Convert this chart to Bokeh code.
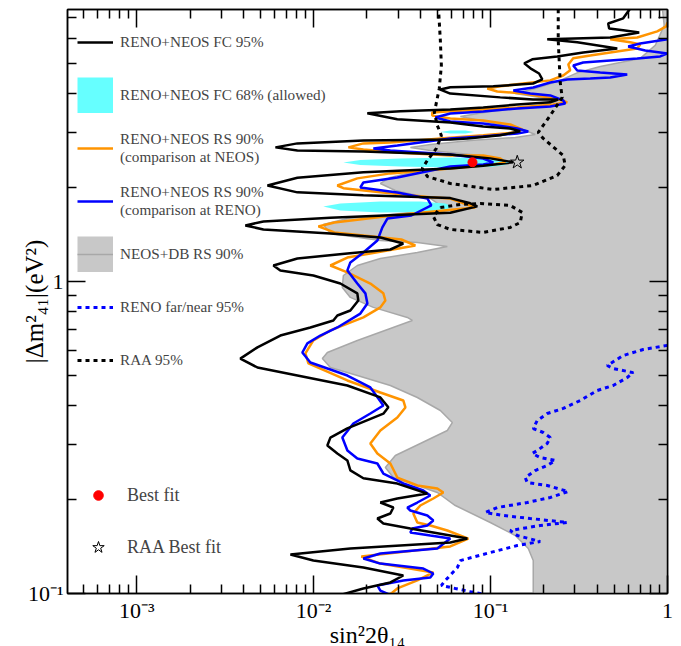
from math import pi
from bokeh.plotting import figure
from bokeh.models import (LogAxis, Legend, LegendItem, CustomJSTickFormatter, Range1d, FixedTicker)
from bokeh.embed import file_html
from bokeh.resources import INLINE

FONT = "Liberation Serif"
NAN = float("nan")

# ---------------- data: (sin^2 2theta14, |dm^2_41| [eV^2]) ----------------
fc95 = [(0.6155,7.5),(0.562,6.97),(0.462,6.71),(0.468,6.47),(0.562,6.38),(0.692,6.28),(0.4745,6.05),(0.209,5.97),
        (0.309,5.84),(0.520,5.58),(0.334,5.42),(0.238,5.26),(0.172,5.15),(0.155,5.00),(0.168,4.82),(0.188,4.64),
        (0.196,4.44),(0.174,4.31),(0.1036,4.22),(0.0592,4.19),(0.052,4.12),(0.0592,4.00),(0.1134,3.89),(0.174,3.83),
        (0.241,3.83),(0.217,3.75),(0.1415,3.69),(0.0909,3.61),(0.0592,3.56),(0.0309,3.51),(0.0201,3.46),(0.0297,3.31),
        (0.0592,3.23),(0.0909,3.14),(0.1292,3.09),(0.147,3.03),(0.1134,2.94),(0.0739,2.87),(0.0592,2.85),(0.0191,2.83),
        (0.00809,2.77),(0.00608,2.69),(0.00809,2.63),(0.0191,2.61),(0.0592,2.55),(0.0996,2.48),(0.1344,2.41),(0.0909,2.35),
        (0.0592,2.30),(0.0191,2.24),(0.00809,2.15),(0.00548,2.03),(0.00809,1.93),(0.0191,1.89),(0.0592,1.85),(0.0768,1.78),
        (0.0841,1.74),(0.0592,1.66),(0.01243,1.60),(0.0052,1.556),(0.00411,1.512),(0.0052,1.468),(0.01243,1.425),
        (0.02382,1.383),(0.0321,1.323),(0.02713,1.266),(0.0155,1.229),(0.00809,1.185),(0.00592,1.125),(0.00648,1.085),
        (0.00996,1.045),(0.01415,0.985),(0.01765,0.916),(0.01788,0.869),(0.01612,0.807),(0.01361,0.778),(0.01292,0.750),
        (0.00958,0.712),(0.00648,0.671),(0.00481,0.615),(0.00385,0.566),(0.00481,0.530),(0.00809,0.4995),(0.0155,0.464),
        (0.02382,0.425),(0.02643,0.395),(0.02477,0.377),(0.0155,0.338),(0.01243,0.316),(0.01195,0.298),(0.01361,0.281),
        (0.0155,0.267),(0.01612,0.248),(0.0191,0.234),(0.02971,0.225),(0.0439,0.209),(0.02971,0.2016),(0.02382,0.1957),
        (0.02821,0.1886),(0.02713,0.1805),(0.02291,0.1739),(0.02477,0.1676),(0.03519,0.1616),(0.0592,0.1534),
        (0.0739,0.1500),(0.0592,0.1457),(0.01612,0.1394),(0.00739,0.1333),(0.00996,0.1275),(0.0191,0.1211),
        (0.0321,0.1142),(0.02713,0.1085),(0.0191,0.1038),(0.0147,0.0995)]

rs90_neos = [(1.0,6.76),(0.983,6.57),(0.875,6.33),(0.674,6.05),(0.4745,5.97),(0.6155,5.84),(0.7011,5.75),(0.674,5.58),
             (0.4745,5.42),(0.3658,5.30),(0.293,5.19),(0.275,4.96),(0.2819,4.75),(0.2574,4.57),(0.2174,4.41),(0.153,4.31),
             (0.1134,4.22),(0.0958,4.155),(0.1091,4.064),(0.153,4.00),(0.2091,3.89),(0.2574,3.80),(0.2712,3.75),(0.226,3.69),
             (0.1415,3.61),(0.0909,3.56),(0.0592,3.51),(0.0468,3.48),(0.0468,3.40),(0.0592,3.33),(0.0909,3.28),(0.1292,3.185),
             (0.151,3.07),(0.1344,3.00),(0.0909,2.94),(0.0592,2.89),(0.02713,2.79),(0.0191,2.77),(0.01571,2.69),(0.0191,2.65),
             (0.02971,2.59),(0.0592,2.534),(0.0909,2.534),(0.1134,2.48),(0.1211,2.41),(0.1036,2.37),(0.0592,2.30),(0.02713,2.22),
             (0.01765,2.14),(0.01361,2.03),(0.01472,1.99),(0.02382,1.93),(0.04564,1.86),(0.0592,1.845),(0.08196,1.726),
             (0.0313,1.639),(0.01309,1.545),(0.01063,1.501),(0.01309,1.436),(0.0313,1.363),(0.03755,1.304),(0.02609,1.257),
             (0.0155,1.193),(0.01243,1.125),(0.0155,1.069),(0.02091,0.985),(0.02477,0.916),(0.02542,0.869),(0.02382,0.826),
             (0.0191,0.767),(0.01243,0.697),(0.00996,0.647),(0.00898,0.588),(0.00934,0.546),(0.0155,0.4816),(0.02382,0.4407),
             (0.0321,0.4155),(0.033,0.3946),(0.02971,0.3664),(0.02382,0.333),(0.02091,0.3026),(0.02291,0.281),(0.02713,0.261),
             (0.02971,0.2353),(0.03854,0.2219),(0.05,0.217),(0.05406,0.2107),(0.04746,0.2016),(0.04008,0.1914),(0.03658,0.1805),
             (0.03854,0.1689),(0.04564,0.1652),(0.05695,0.1592),(0.07483,0.150),(0.0592,0.1415),(0.0186,0.1313),
             (0.02382,0.1247),(0.04746,0.1168),(0.03854,0.1101),(0.02971,0.1038),(0.02713,0.0995)]

rs90_reno = [(1.0,5.97),(0.7011,5.79),(0.5997,5.665),(0.7482,5.50),(1.0,5.38),(0.9094,5.263),(0.6742,5.185),(0.4745,5.109),
             (0.3339,5.034),(0.2932,4.924),(0.3088,4.746),(0.4166,4.676),(0.592,4.608),(0.4745,4.507),(0.3658,4.474),
             (0.2712,4.441),(0.2174,4.343),(0.1742,4.186),(0.1344,4.094),(0.1676,4.004),(0.2174,3.946),(0.2574,3.803),
             (0.2642,3.720),(0.2174,3.638),(0.1415,3.584),(0.0909,3.506),(0.0592,3.455),(0.04872,3.354),(0.0592,3.257),
             (0.0909,3.209),(0.1415,3.093),(0.1633,3.026),(0.1415,2.981),(0.0909,2.916),(0.0592,2.873),(0.02971,2.728),
             (0.02175,2.669),(0.02713,2.630),(0.0592,2.553),(0.0909,2.478),(0.1036,2.406),(0.0909,2.371),(0.0592,2.337),
             (0.02971,2.154),(0.0191,2.076),(0.01836,2.001),(0.02971,1.928),(0.0439,1.845),(0.04624,1.752),(0.03565,1.627),
             (0.02609,1.591),(0.02445,1.490),(0.02291,1.353),(0.0191,1.238),(0.01612,1.151),(0.01551,1.085),(0.01765,0.985),
             (0.0196,0.916),(0.02012,0.850),(0.01836,0.789),(0.01361,0.712),(0.01091,0.671),(0.00921,0.633),(0.00863,0.592),
             (0.00958,0.550),(0.01551,0.4995),(0.02091,0.4574),(0.02321,0.4217),(0.02477,0.4005),(0.02091,0.3774),
             (0.01676,0.3506),(0.01452,0.3162),(0.01551,0.2872),(0.01765,0.2708),(0.02291,0.2610),(0.02477,0.2424),
             (0.03212,0.2252),(0.04167,0.2138),(0.04564,0.2061),(0.03854,0.1957),(0.03384,0.1886),(0.03519,0.1845),
             (0.0439,0.1778),(0.04746,0.1714),(0.0439,0.1652),(0.03612,0.1616),(0.03519,0.1569),(0.04564,0.1534),
             (0.0592,0.1500),(0.05,0.1394),(0.02382,0.1343),(0.0191,0.1294),(0.02382,0.1247),(0.04167,0.1202),
             (0.04746,0.1159),(0.04564,0.1125),(0.03212,0.1101),(0.02291,0.1061),(0.02382,0.1022),(0.02643,0.0995)]

neos_db = [(0.933,7.6),(0.958,6.615),(0.8522,5.707),(0.7011,5.185),(0.4166,4.888),(0.3128,4.676),(0.2475,4.408),
           (0.1788,4.155),(0.1379,4.004),(0.1908,3.888),(0.235,3.775),(0.1676,3.611),(0.0996,3.506),(0.06744,3.379),
           (0.0996,3.233),(0.1471,3.093),(0.1788,2.959),(0.1379,2.894),(0.0768,2.831),(0.04564,2.748),(0.03519,2.688),
           (0.04564,2.630),(0.08747,2.534),(0.1063,2.442),(0.08747,2.354),(0.04008,2.269),(0.02713,2.154),(0.02382,2.061),
           (0.02895,1.957),(0.04564,1.845),(0.05199,1.752),(0.04008,1.677),(0.02382,1.627),(0.01551,1.591),(0.01134,1.522),
           (0.01243,1.425),(0.02382,1.353),(0.03854,1.333),(0.05695,1.294),(0.03854,1.238),(0.02382,1.185),(0.01765,1.125),
           (0.01472,1.045),(0.01452,0.957),(0.01612,0.889),(0.02175,0.826),(0.03384,0.767),(0.03612,0.750),(0.02713,0.707),
           (0.01765,0.647),(0.01195,0.592),(0.0112,0.566),(0.01243,0.530),(0.01765,0.4995),(0.02713,0.4642),(0.03854,0.4248),
           (0.05199,0.3859),(0.06076,0.3531),(0.05695,0.3330),(0.04008,0.3026),(0.02895,0.2769),(0.02542,0.2534),
           (0.02821,0.2353),(0.03854,0.2219),(0.05,0.2107),(0.06319,0.1914),(0.0996,0.1689),(0.1379,0.1534),(0.1633,0.1394),
           (0.1742,0.1275),(0.1742,0.095),(2.0,0.095),(2.0,7.6)]

fc68_a = [(0.052,3.015),(0.0592,3.048),(0.072,3.048),(0.0809,3.015),(0.072,2.981),(0.0592,2.981)]
fc68_b = [(0.01472,2.406),(0.01836,2.451),(0.0309,2.478),(0.0592,2.496),(0.0996,2.487),(0.1211,2.442),(0.1275,2.406),
          (0.1211,2.363),(0.0996,2.328),(0.0592,2.320),(0.0309,2.337),(0.01836,2.363)]
fc68_c = [(0.01134,1.739),(0.01415,1.778),(0.02382,1.805),(0.04008,1.805),(0.05549,1.778),(0.06076,1.739),(0.05549,1.695),
          (0.04008,1.670),(0.02382,1.664),(0.01415,1.689)]

raa_a = [(0.0507,7.6),(0.052,5.922),(0.0527,4.924),(0.0513,4.155),(0.0481,3.480),(0.05,3.162),(0.0527,2.937),(0.0494,2.669),
         (0.0439,2.442),(0.0411,2.303),(0.0439,2.170),(0.0592,2.061),(0.1036,1.971),(0.1742,2.031),(0.2381,2.186),(0.2642,2.354),
         (0.2574,2.534),(0.1985,2.873),(0.1859,3.003),(0.2174,3.404),(0.254,3.888),(0.2475,4.343),(0.2412,5.922),(0.2412,7.6)]
raa_b = [(0.052,1.726),(0.0674,1.765),(0.0875,1.778),(0.1292,1.752),(0.151,1.664),(0.1471,1.545),(0.1292,1.490),
         (0.0909,1.436),(0.0592,1.468),(0.05,1.522),(0.0475,1.615),(0.052,1.726)]

reno_fn = [(1.0,0.624),(0.729,0.6054),(0.562,0.579),(0.4563,0.538),(0.4934,0.5257),(0.64,0.5104),(0.592,0.4922),
           (0.4934,0.4642),(0.4006,0.4473),(0.3211,0.4155),(0.2574,0.3918),(0.2091,0.3774),(0.1835,0.3584),(0.1742,0.3379),
           (0.1985,0.3281),(0.2174,0.3162),(0.2091,0.3026),(0.1835,0.2872),(0.172,0.281),(0.1908,0.2728),(0.232,0.2669),
           (0.2091,0.2572),(0.1788,0.2478),(0.157,0.2353),(0.1611,0.2268),(0.2091,0.2219),(0.2747,0.2122),(0.2174,0.2031),
           (0.1611,0.1957),(0.1091,0.1886),(0.0933,0.1818),(0.118,0.1778),(0.1676,0.1739),(0.2712,0.1689),(0.1908,0.1652),
           (0.1292,0.1592),(0.1415,0.1534),(0.1908,0.1468),(0.1415,0.1425),(0.0996,0.1353),(0.0674,0.1275),(0.0649,0.1211),
           (0.0555,0.1101),(0.0527,0.1061),(0.0632,0.1038),(0.0768,0.1014),(0.0909,0.0995)]

best_fit = [(0.079, 2.41)]
raa_best_fit = [(0.1415, 2.41)]

x_major_ticks = [0.001, 0.01, 0.1, 1.0]
y_major_ticks = [0.1, 1.0]
minor_multipliers = [2, 3, 4, 5, 6, 7, 8, 9]
x_decades = [1e-4, 1e-3, 1e-2, 1e-1]
y_decades = [0.1, 1.0]


def xs(pts):
    return [a for a, b in pts]


def ys(pts):
    return [b for a, b in pts]


x_lo, x_hi, y_lo, y_hi = 4.06e-4, 1.0, 0.1, 7.44
x_minor = [m * d for d in x_decades for m in minor_multipliers if x_lo <= m * d <= x_hi]
y_minor = [m * d for d in y_decades for m in minor_multipliers if y_lo <= m * d <= y_hi]

p = figure(x_axis_type="log", y_axis_type="log",
           x_range=Range1d(x_lo, x_hi), y_range=Range1d(y_lo, y_hi),
           frame_width=600, frame_height=584,
           min_border_left=67, min_border_right=8, min_border_top=9, min_border_bottom=30,
           output_backend="svg", toolbar_location=None)
p.xgrid.visible = False
p.ygrid.visible = False
p.outline_line_color = "black"
p.outline_line_width = 1.5
p.background_fill_color = "white"
p.border_fill_color = "white"

fmt = CustomJSTickFormatter(code="""
const e = Math.round(Math.log10(tick));
if (e === 0) return "1";
const sup = {"-": "\u207b", "0": "\u2070", "1": "\u00b9", "2": "\u00b2", "3": "\u00b3",
             "4": "\u2074", "5": "\u2075", "6": "\u2076", "7": "\u2077", "8": "\u2078", "9": "\u2079"};
return "10" + String(e).split("").map(c => sup[c]).join("");
""")


def style_axis(ax, major, minor):
    ax.ticker = FixedTicker(ticks=major, minor_ticks=minor)
    ax.axis_line_width = 1.5
    ax.axis_line_color = "black"
    ax.major_tick_in = 18
    ax.major_tick_out = 0
    ax.minor_tick_in = 9
    ax.minor_tick_out = 0
    ax.major_tick_line_width = 1.5
    ax.minor_tick_line_width = 1.5
    ax.major_tick_line_color = "black"
    ax.minor_tick_line_color = "black"
    ax.major_label_text_font = FONT
    ax.major_label_text_font_size = "22px"
    ax.major_label_text_color = "black"
    ax.major_label_standoff = 4
    ax.axis_label_text_font = FONT
    ax.axis_label_text_font_style = "normal"
    ax.axis_label_text_font_size = "24px"
    ax.axis_label_text_color = "black"


style_axis(p.xaxis[0], x_major_ticks, x_minor)
style_axis(p.yaxis[0], y_major_ticks, y_minor)
p.xaxis[0].formatter = fmt
p.yaxis[0].formatter = fmt
p.xaxis[0].axis_label = "sin\u00b22\u03b8\u2081\u2084"
p.xaxis[0].axis_label_standoff = -4
p.yaxis[0].axis_label = "|\u0394m\u00b2\u2084\u2081|(eV\u00b2)"
p.yaxis[0].axis_label_text_font_size = "25px"
p.yaxis[0].axis_label_standoff = -23

for place, major, minor in (("above", x_major_ticks, x_minor), ("right", y_major_ticks, y_minor)):
    ax = LogAxis(formatter=CustomJSTickFormatter(code="return '';"))
    style_axis(ax, major, minor)
    ax.major_label_text_font_size = "0px"
    ax.major_label_standoff = 0
    p.add_layout(ax, place)

# ---------------- regions ----------------
p.patch(xs(neos_db), ys(neos_db), fill_color="#c8c8c8", line_color="#a8a8a8", line_width=1.5)
CYAN = "#66ffff"
for poly in (fc68_a, fc68_b, fc68_c):
    p.patch(xs(poly), ys(poly), fill_color=CYAN, line_color=None)

# ---------------- contours ----------------
r_orange = p.line(xs(rs90_neos), ys(rs90_neos), line_color="#ff9400", line_width=2.5)
r_blue = p.line(xs(rs90_reno), ys(rs90_reno), line_color="#0000ff", line_width=2.5)
r_black = p.line(xs(fc95), ys(fc95), line_color="black", line_width=2.5)
r_raa = p.line(xs(raa_a), ys(raa_a), line_color="black", line_width=3, line_dash="4 4")
p.line(xs(raa_b), ys(raa_b), line_color="black", line_width=3, line_dash="4 4")
r_reno = p.line(xs(reno_fn), ys(reno_fn), line_color="#0000ff", line_width=3, line_dash="4 4")

r_bf = p.scatter(xs(best_fit), ys(best_fit), marker="circle", size=9, fill_color="red", line_color="red")
r_raabf = p.scatter(xs(raa_best_fit), ys(raa_best_fit), marker="star", size=14, fill_color=None,
                    line_color="black", line_width=1)

# legend-only swatches (no visible data)
sw_cyan = p.line([NAN], [NAN], line_color=CYAN, line_width=36)
sw_gray = p.line([NAN], [NAN], line_color="#c8c8c8", line_width=36)
sw_gray_l = p.line([NAN], [NAN], line_color="#a8a8a8", line_width=1.5)

common = dict(padding=0, margin=0, border_line_color=None, background_fill_alpha=0,
              label_text_font=FONT)

leg1 = Legend(items=[
    LegendItem(label="RENO+NEOS FC 95%", renderers=[r_black]),
    LegendItem(label="RENO+NEOS FC 68% (allowed)", renderers=[sw_cyan]),
    LegendItem(label="RENO+NEOS RS 90%\n(comparison at NEOS)", renderers=[r_orange]),
    LegendItem(label="RENO+NEOS RS 90%\n(comparison at RENO)", renderers=[r_blue]),
    LegendItem(label="NEOS+DB RS 90%", renderers=[sw_gray, sw_gray_l]),
    LegendItem(label="RENO far/near 95%", renderers=[r_reno]),
    LegendItem(label="RAA 95%", renderers=[r_raa]),
], location=(10, 215), glyph_width=36, glyph_height=36, spacing=17, label_standoff=7,
    label_text_font_size="15.2px", label_text_line_height=1.1, **common)
p.add_layout(leg1)

leg2 = Legend(items=[LegendItem(label="Best fit", renderers=[r_bf])], location=(19, 86),
              glyph_width=24, glyph_height=24, label_standoff=17, label_text_font_size="18px", **common)
p.add_layout(leg2)
leg3 = Legend(items=[LegendItem(label="RAA Best fit", renderers=[r_raabf])], location=(16, 31),
              glyph_width=30, glyph_height=30, label_standoff=14, label_text_font_size="18px", **common)
p.add_layout(leg3)

open("out.html", "w").write(file_html(p, INLINE))
